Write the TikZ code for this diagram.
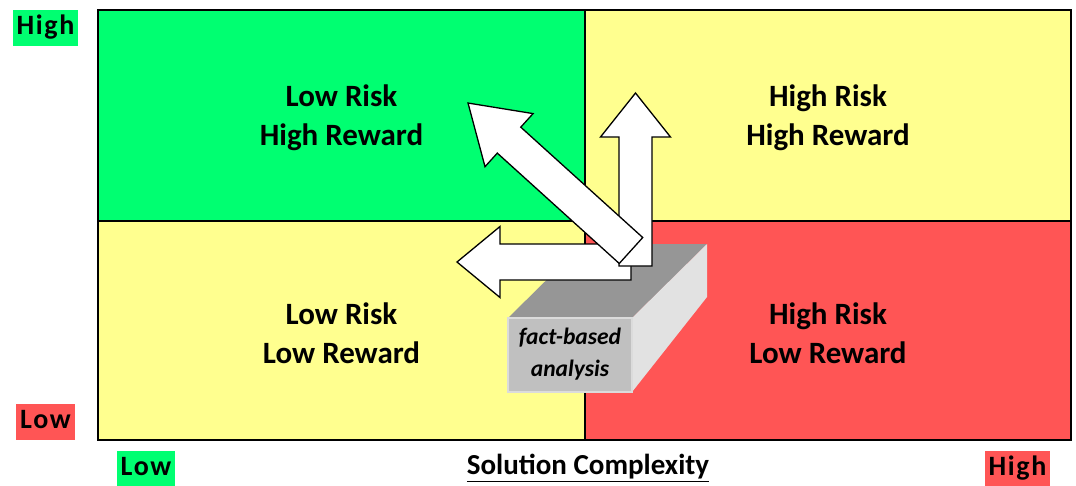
\documentclass[tikz,border=0pt]{standalone}
\usepackage{fontspec}
\setmainfont{Carlito}
\definecolor{lowgreen}{RGB}{0,255,113}
\definecolor{midyellow}{RGB}{255,255,143}
\definecolor{highred}{RGB}{255,85,85}
\definecolor{boxtop}{RGB}{150,150,150}
\definecolor{boxfront}{RGB}{192,192,192}
\definecolor{boxside}{RGB}{226,226,226}
\begin{document}
\begin{tikzpicture}[x=1pt,y=-1pt,line join=miter]
\tikzset{
  risk/.style={font=\fontsize{31}{39}\selectfont\bfseries,align=center},
  axislabel/.style={font=\fontsize{28}{30}\selectfont\bfseries\addfontfeatures{LetterSpace=6},
    inner xsep=4pt,inner ysep=0pt,minimum height=36pt,text height=19pt,text depth=6pt},
  fatarrow/.style={draw=black,fill=white,line width=1.3pt},
  pics/bigarrow/.style n args={4}{code={
    \draw[fatarrow] (0,-#2) -- (#1,-#2) -- (#1,-#4) -- (#1+#3,0) -- (#1,#4) -- (#1,#2) -- (0,#2) -- cycle;
  }}
}
\useasboundingbox (0,0) rectangle (1076,485);
% quadrants
\fill[lowgreen] (98,10) rectangle (585,221);
\fill[midyellow] (585,10) rectangle (1071,221);
\fill[midyellow] (98,221) rectangle (585,440);
\fill[highred] (585,221) rectangle (1071,440);
\draw[line width=1.2pt] (585,10) -- (585,440);
\draw[line width=1.2pt] (98,221) -- (1071,221);
\draw[line width=2.4pt] (98,10) rectangle (1071,440);
\node[risk] (lowhigh) at (341.5,117.5) {Low Risk\\High Reward};
\node[risk] (highhigh) at (828,117.5) {High Risk\\High Reward};
\node[risk] (lowlow) at (341.5,333.5) {Low Risk\\Low Reward};
\node[risk] (highlow) at (828,333.5) {High Risk\\Low Reward};
% axis labels
\node[axislabel,fill=lowgreen] (rewardhigh) at (45.5,28) {High};
\node[axislabel,fill=highred] (rewardlow) at (45.5,422) {Low};
\node[axislabel,fill=lowgreen] (complow) at (146,469) {Low};
\node[axislabel,fill=highred] (comphigh) at (1017.5,469) {High};
\node[font=\fontsize{29}{30}\selectfont\bfseries] (complexity) at (588,468) {\underline{Solution Complexity}};
% the block
\fill[boxtop] (508,318) -- (583,244) -- (707,244) -- (632,318) -- cycle;
\fill[boxside] (632,318) -- (707,244) -- (707,297) -- (632,392) -- cycle;
\draw[boxside!80!boxfront,fill=boxfront,line width=1.2pt] (508,318) rectangle (632,392);
\node[font=\fontsize{23.5}{32}\selectfont\bfseries\itshape,align=center] (fact) at (570,354) {fact-based\\analysis};
% arrows
\pic[rotate=180] at (631,262) {bigarrow={131}{18}{43}{35.5}};
\pic[rotate=90] at (635.5,266) {bigarrow={129}{16.5}{44}{35}};
\pic[rotate=137.86] at (631,250.5) {bigarrow={164.5}{17.5}{55.3}{35.8}};
\end{tikzpicture}
\end{document}
